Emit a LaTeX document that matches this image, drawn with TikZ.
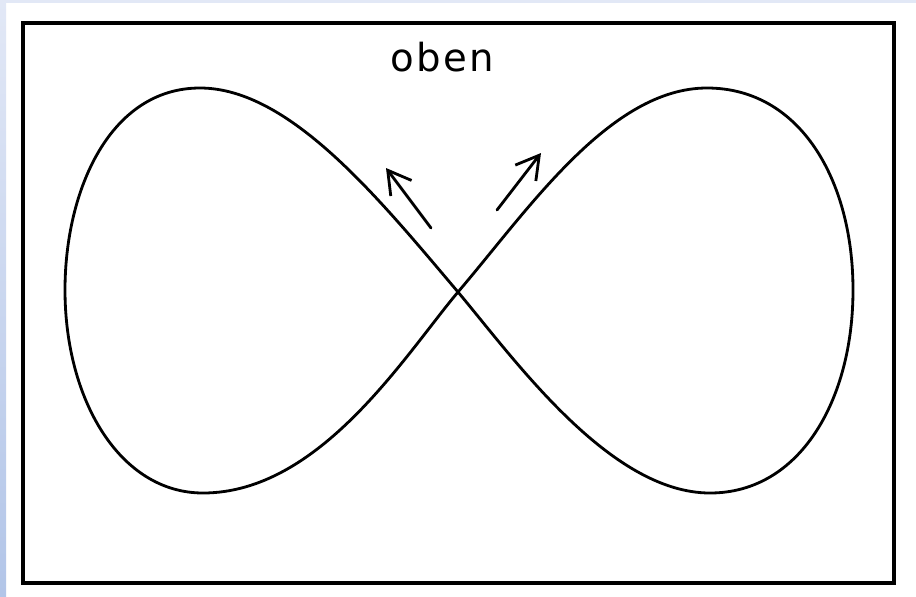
\documentclass[tikz,border=0pt]{standalone}
\usepackage{fontspec}
\newfontfamily\handfont[LetterSpace=6]{DejaVu Sans}
\usetikzlibrary{arrows.meta}
\definecolor{stripe}{RGB}{226,232,246}
\definecolor{stripedark}{RGB}{178,197,232}
\tikzset{
  pen/.style={line width=1.6pt, line join=round, line cap=round},
  hint/.style={pen, -{Straight Barb[length=4.5mm, width=5.2mm, line width=1.6pt]}},
}
\begin{document}
\begin{tikzpicture}[x=0.02cm,y=-0.02cm]
  \useasboundingbox (0,0) rectangle (916,596);
  \fill[white] (0,0) rectangle (916,596);
  \shade[top color=stripe, bottom color=stripedark] (0,0) rectangle (6,596);
  \fill[stripe] (0,0) rectangle (916,3);
  \draw[line width=1.8pt] (23,23) rectangle (894,583);
  \node[font=\handfont\fontsize{22}{26}\selectfont] (oben) at (442,57) {oben};
  % figure eight
  \coordinate (X) at (458,292);
  \draw[pen] (X) .. controls (380,200) and (290,88) .. (200,88)
    .. controls (110,88) and (65,190) .. (65,290)
    .. controls (65,400) and (120,493) .. (203,493)
    .. controls (320,493) and (405,355) .. (X)
    .. controls (528,210) and (610,88) .. (707,88)
    .. controls (800,88) and (853,180) .. (853,290)
    .. controls (853,400) and (800,493) .. (710,493)
    .. controls (610,493) and (515,360) .. (X);
  % arrows
  \coordinate (la) at (431,228);
  \coordinate (lb) at (386,168);
  \coordinate (ra) at (497,210);
  \coordinate (rb) at (541,153);
  \draw[hint] (la) -- (lb);
  \draw[hint] (ra) -- (rb);
\end{tikzpicture}
\end{document}
